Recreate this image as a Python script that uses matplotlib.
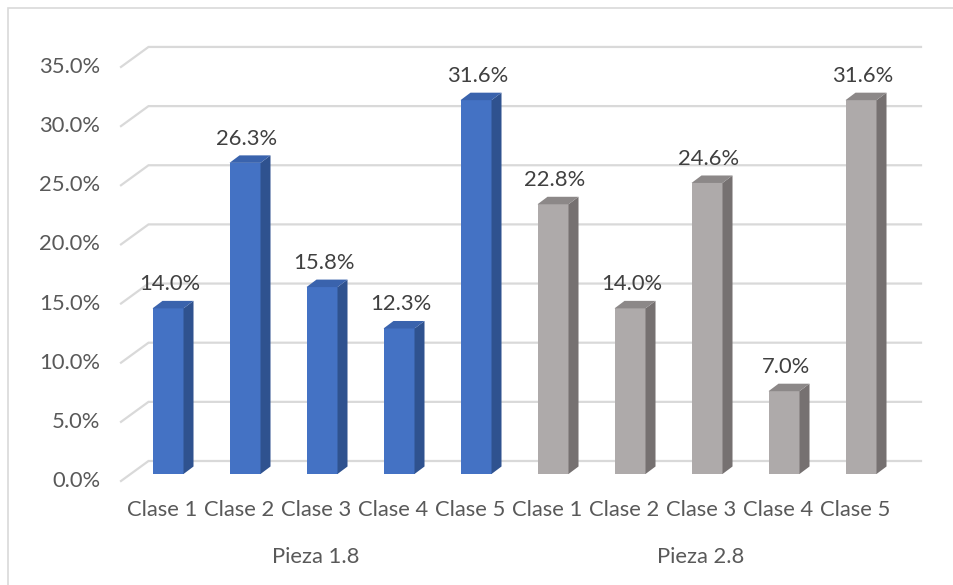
import numpy as np
import matplotlib
matplotlib.use('Agg')
import matplotlib.pyplot as plt
from matplotlib.patches import Polygon, Rectangle

# data
groups = ['Pieza 1.8', 'Pieza 2.8']
classes = ['Clase 1', 'Clase 2', 'Clase 3', 'Clase 4', 'Clase 5']
pieza_18 = [14.0, 26.3, 15.8, 12.3, 31.6]
pieza_28 = [22.8, 14.0, 24.6, 7.0, 31.6]
y_ticks = [0, 5, 10, 15, 20, 25, 30, 35]

plt.rcParams['font.family'] = ['Lato', 'DejaVu Sans']

W, H = 954, 585
fig = plt.figure(figsize=(W / 100, H / 100), dpi=100)
ax = fig.add_axes([0, 0, 1, 1])
# pixel -> data mapping: 77 px per category, 11.83 px per percent
px_cat, px_pct = 77.0, 11.83
x0, y0 = 162.0, 474.0
ax.set_xlim(-x0 / px_cat, (W - x0) / px_cat)
ax.set_ylim((y0 - H) / px_pct, y0 / px_pct)
ax.axis('off')

# depth of walls/floor and of bars (in data units)
front_dx, front_dy = (121 - x0) / px_cat, -7 / px_pct
back_dx, back_dy = (148.5 - x0) / px_cat, 13 / px_pct
wall_end = (921 - x0) / px_cat
bar_dx, bar_dy = 10 / px_cat, 7.5 / px_pct

fs = 15.8
grid_c = '#d9d9d9'
for t in y_ticks:
    ax.plot([front_dx, back_dx, wall_end], [t + front_dy, t + back_dy, t + back_dy],
            color=grid_c, lw=1.6, solid_joinstyle='miter', zorder=1)
    ax.text(-0.805, t + front_dy, f'{t:.1f}%', ha='right', va='center',
            fontsize=fs, color='#595959')

values = pieza_18 + pieza_28
x = np.arange(len(values))
fronts = ['#4472c4'] * 5 + ['#aeaaaa'] * 5
sides = ['#2f528f'] * 5 + ['#767171'] * 5
tops = ['#3a63ad'] * 5 + ['#8c8888'] * 5

bars = ax.bar(x + 0.078, values, width=31 / px_cat, color=fronts, zorder=3)
for b, v, sc, tc in zip(bars, values, sides, tops):
    l, w, h = b.get_x(), b.get_width(), b.get_height()
    r = l + w
    side = Polygon([(r, 0), (r + bar_dx, bar_dy), (r + bar_dx, h + bar_dy), (r, h)],
                   closed=True, facecolor=sc, edgecolor='none', zorder=3)
    top = Polygon([(l, h), (l + bar_dx, h + bar_dy), (r + bar_dx, h + bar_dy), (r, h)],
                  closed=True, facecolor=tc, edgecolor='none', zorder=3)
    ax.add_patch(side)
    ax.add_patch(top)
    ax.text(l + w / 2 + 0.02, h + 2.05, f'{v:.1f}%', ha='center', va='center',
            fontsize=fs, color='#404040', zorder=4)

for i, c in enumerate(classes * 2):
    ax.text(i, -3.04, c, ha='center', va='center', fontsize=fs, color='#595959')
for g, gi in zip(groups, [2, 7]):
    ax.text(gi, -7.02, g, ha='center', va='center', fontsize=fs, color='#595959')

# chart frame (right and bottom edges fall outside the picture)
fig.add_artist(Rectangle((8 / W, -0.1), 1.2, 1.1 - 8 / H, transform=fig.transFigure,
                         fill=False, edgecolor='#d9d9d9', lw=1.2))

fig.savefig('out.png', dpi=100)
